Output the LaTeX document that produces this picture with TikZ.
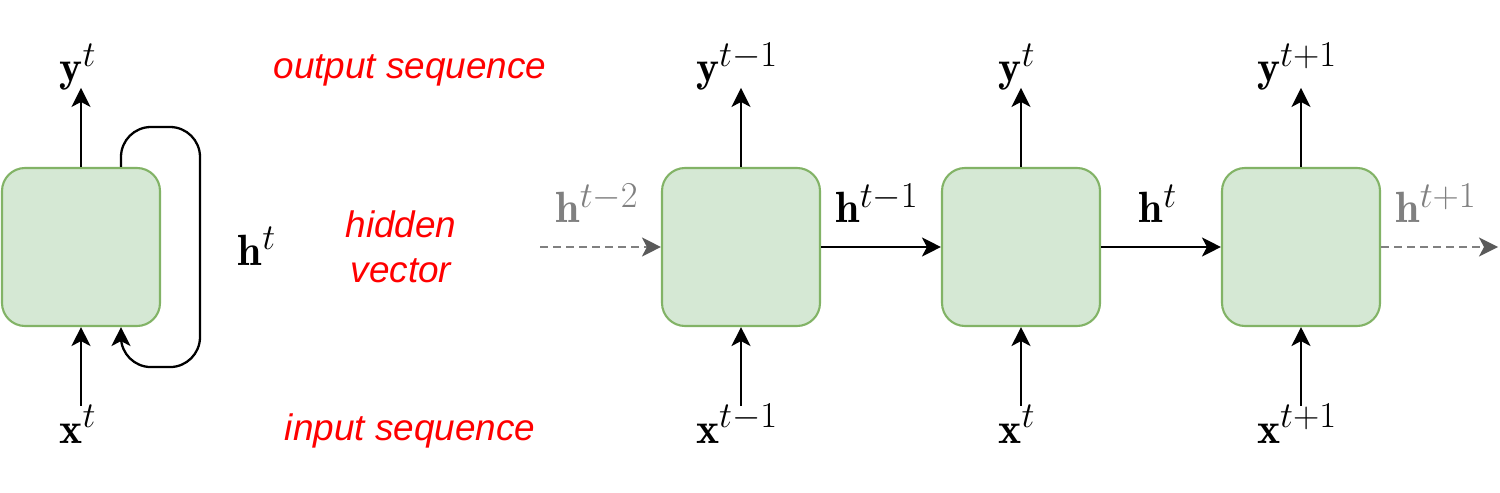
\documentclass[tikz,border=0pt]{standalone}
\usepackage{fontspec}
\newfontfamily\notefont{Liberation Sans}
\usetikzlibrary{positioning,calc,arrows.meta}

\definecolor{cellfill}{HTML}{D5E8D4}
\definecolor{celldraw}{HTML}{82B366}
\definecolor{hgray}{HTML}{808080}
\definecolor{hdark}{HTML}{5A5A5A}

\tikzset{
  cell/.style={draw=celldraw, fill=cellfill, line width=1.2pt, rounded corners=0.46cm,
    minimum width=3.16cm, minimum height=3.16cm, inner sep=0pt},
  lab/.style={anchor=base, inner sep=0pt, font=\fontsize{24.88}{30}\selectfont},
  note/.style={anchor=base, inner sep=0pt, text=red, align=center,
    font=\notefont\itshape\fontsize{21}{25.6}\selectfont},
  flow/.style={line width=1.3pt, -{Stealth[length=0.38cm, width=0.38cm, inset=0.1cm]}},
  ghost/.style={line width=1.3pt, hgray, dash pattern=on 0.16cm off 0.1cm,
    -{Stealth[length=0.38cm, width=0.38cm, inset=0.1cm, hdark]}}
}

\begin{document}
\begin{tikzpicture}
  \useasboundingbox (0,0) rectangle (30,9.84);

  % folded cell
  \node[cell] (rnn) at (1.62,4.9) {};
  \coordinate[above=1.58cm of rnn.north] (yo);
  \coordinate[below=1.58cm of rnn.south] (xi);
  \node[lab] (yL) at (1.56,8.2) {$\mathbf{y}^{t}$};
  \node[lab] (xL) at (1.56,0.98) {$\mathbf{x}^{t}$};
  \node[lab] (hL) at (5.14,4.54) {$\mathbf{h}^{t}$};
  \draw[flow] (rnn.north) -- (yo);
  \draw[flow] (xi) -- (rnn.south);
  \draw[flow, rounded corners=0.6cm] ($(rnn.north)+(0.8,0)$) |- (4.0,7.3)
    |- ($(rnn.south)+(0.8,-0.8)$) -- ($(rnn.south)+(0.8,0)$);

  % captions
  \node[note] (outcap) at (8.2,8.26) {output sequence};
  \node[note] (hidcap) at (8.02,4.2) {hidden\\vector};
  \node[note] (incap) at (8.2,1.04) {input sequence};

  % unrolled cells
  \node[cell] (c1) at (14.82,4.9) {};
  \node[cell] (c2) at (20.42,4.9) {};
  \node[cell] (c3) at (26.02,4.9) {};
  \foreach \i/\lx/\s in {1/14.74/{t-1}, 2/20.34/{t}, 3/25.94/{t+1}} {
    \coordinate[above=1.58cm of c\i.north] (yo\i);
    \coordinate[below=1.58cm of c\i.south] (xi\i);
    \node[lab] (y\i) at (\lx,8.2) {$\mathbf{y}^{\s}$};
    \node[lab] (x\i) at (\lx,0.98) {$\mathbf{x}^{\s}$};
    \draw[flow] (c\i.north) -- (yo\i);
    \draw[flow] (xi\i) -- (c\i.south);
  }

  % hidden states
  \coordinate (hin) at (10.8,4.9);
  \coordinate (hout) at (29.96,4.9);
  \node[lab, text=hgray] (h0) at (11.94,5.38) {$\mathbf{h}^{t-2}$};
  \node[lab] (h1) at (17.54,5.38) {$\mathbf{h}^{t-1}$};
  \node[lab] (h2) at (23.16,5.38) {$\mathbf{h}^{t}$};
  \node[lab, text=hgray] (h3) at (28.72,5.38) {$\mathbf{h}^{t+1}$};
  \draw[ghost] (hin) -- (c1.west);
  \draw[flow] (c1.east) -- (c2.west);
  \draw[flow] (c2.east) -- (c3.west);
  \draw[ghost] (c3.east) -- (hout);
\end{tikzpicture}
\end{document}
